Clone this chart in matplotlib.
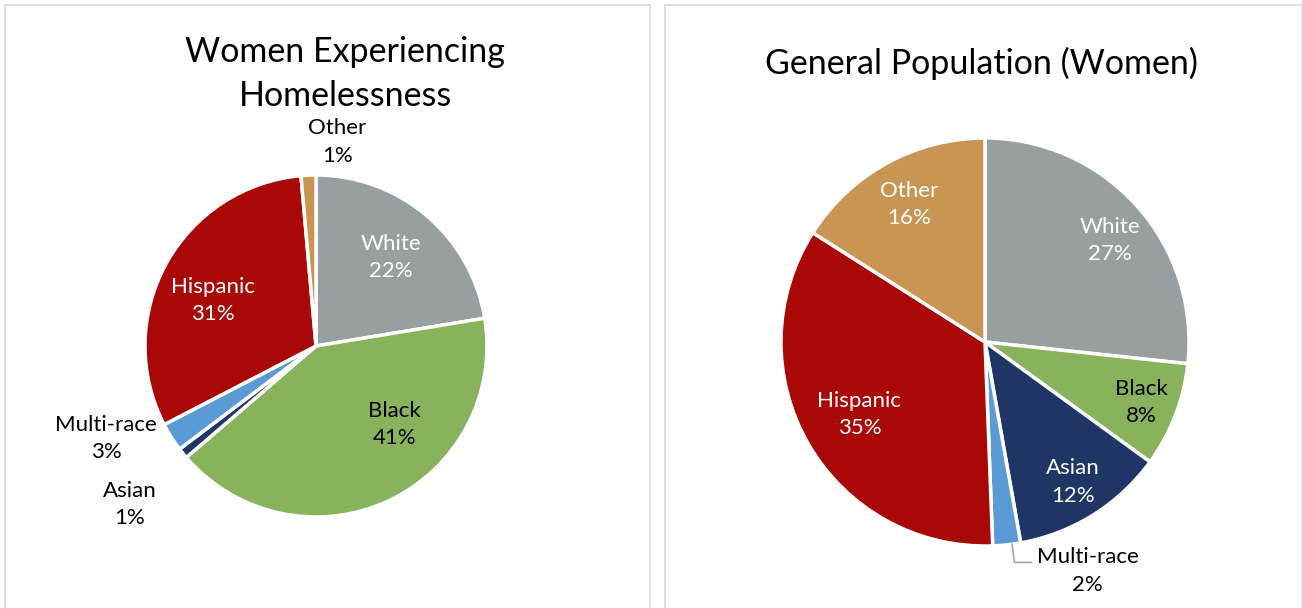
import numpy as np
import matplotlib
matplotlib.use("Agg")
import matplotlib.pyplot as plt
from matplotlib.patches import Rectangle

# -----------------------------
# Data
# -----------------------------
categories = ["White", "Black", "Asian", "Multi-race", "Hispanic", "Other"]
homeless_pct = [22.4, 41.3, 1.0, 2.7, 31.2, 1.4]
general_pct = [26.7, 8.3, 12.2, 2.2, 34.6, 16.0]
titles = ["Women Experiencing\nHomelessness", "General Population (Women)"]

colors = ["#979FA1", "#89B25C", "#1F3566", "#5B9BD5", "#AA0707", "#C89652"]

# -----------------------------
# Layout (pixels, y measured from top)
# -----------------------------
W, H = 1302, 608
FONT = ["Lato", "DejaVu Sans"]

# label placement: (angle offset from wedge middle, radius fraction, text colour)
left_labels = [(0, 0.68, "white"), (20, 0.65, "black"), (1.6, 1.43, "black"),
               (-8.5, 1.34, "black"), (5, 0.66, "white"), (-8.5, 1.20, "black")]
right_labels = [(-3, 0.79, "white"), (0, 0.82, "black"), (0, 0.81, "white"),
                (18, 1.23, "black"), (0, 0.71, "white"), (0, 0.77, "white")]

panels = [
    dict(values=homeless_pct, title=titles[0], center=(316, 346), radius=171,
         title_xy=(345, 74), labels=left_labels, box=(5, 650)),
    dict(values=general_pct, title=titles[1], center=(985, 342), radius=204,
         title_xy=(981, 63), labels=right_labels, box=(665, 1302)),
]

fig = plt.figure(figsize=(W / 100, H / 100), dpi=100)
ax = fig.add_axes([0, 0, 1, 1])


def fy(y):
    return H - y


for p in panels:
    x0, x1 = p["box"]
    ax.add_patch(Rectangle((x0, -5), x1 - x0, fy(5) + 5, fill=False,
                           edgecolor="#D9D9D9", linewidth=1.2))

    cx, cy = p["center"][0], fy(p["center"][1])
    r = p["radius"]
    wedges, _ = ax.pie(p["values"], colors=colors, startangle=90, counterclock=False,
                       center=(cx, cy), radius=r,
                       wedgeprops=dict(edgecolor="white", linewidth=2.5))

    for w, name, val, (off, frac, tc) in zip(wedges, categories, p["values"], p["labels"]):
        mid = (w.theta1 + w.theta2) / 2 + off
        tx = cx + frac * r * np.cos(np.radians(mid))
        ty = cy + frac * r * np.sin(np.radians(mid))
        ax.text(tx, ty, f"{name}\n{round(val):d}%", ha="center", va="center",
                color=tc, fontsize=16, family=FONT, linespacing=1.45)

    ax.text(p["title_xy"][0], fy(p["title_xy"][1]), p["title"], ha="center", va="center",
            fontsize=24.5, family=FONT, linespacing=1.45)

# leader line for the small Multi-race slice on the right
cx, cy = panels[1]["center"][0], fy(panels[1]["center"][1])
r = panels[1]["radius"]
idx = categories.index("Multi-race")
start = 90 - sum(general_pct[:idx]) * 3.6
mid = start - general_pct[idx] * 1.8
a = np.radians(mid + 1.5)
px0, py0 = cx + r * np.cos(a), cy + r * np.sin(a)
px1, py1 = cx + 1.09 * r * np.cos(a), cy + 1.09 * r * np.sin(a)
ax.plot([px0, px1, px1 + 17], [py0, py1, py1], color="#A6A6A6", linewidth=1.2)

ax.set_xlim(0, W)
ax.set_ylim(0, H)
ax.set_aspect("equal")
ax.axis("off")

fig.savefig("out.png", dpi=100, facecolor="white")
